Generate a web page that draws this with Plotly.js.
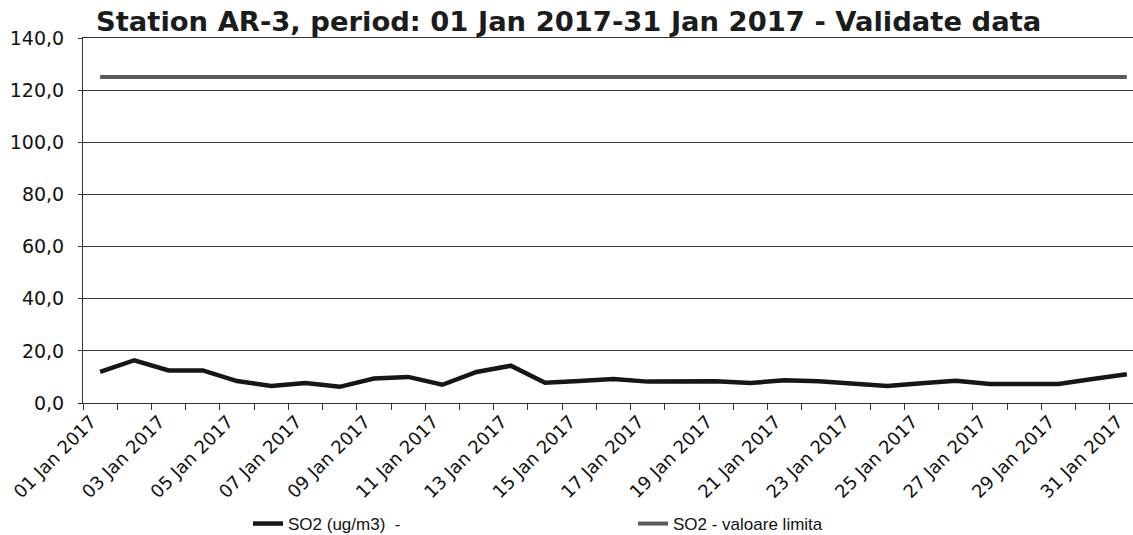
<!DOCTYPE html>
<html>
<head>
<meta charset="utf-8">
<script src="https://cdn.plot.ly/plotly-3.0.1.min.js"></script>
<style>
  html, body { margin: 0; padding: 0; background: #ffffff; }
  #chart { width: 1133px; height: 535px; }
</style>
</head>
<body>
<div id="chart"></div>
<script>
// ---- data ----
var dates = [
  '2017-01-01','2017-01-02','2017-01-03','2017-01-04','2017-01-05','2017-01-06','2017-01-07',
  '2017-01-08','2017-01-09','2017-01-10','2017-01-11','2017-01-12','2017-01-13','2017-01-14',
  '2017-01-15','2017-01-16','2017-01-17','2017-01-18','2017-01-19','2017-01-20','2017-01-21',
  '2017-01-22','2017-01-23','2017-01-24','2017-01-25','2017-01-26','2017-01-27','2017-01-28',
  '2017-01-29','2017-01-30','2017-01-31'
];
var so2Values = [
  11.9, 16.4, 12.5, 12.5, 8.4, 6.5, 7.7,
  6.2, 9.4, 10.0, 7.0, 11.9, 14.3, 7.8,
  8.4, 9.2, 8.2, 8.3, 8.3, 7.7, 8.7,
  8.3, 7.2, 6.5, 7.6, 8.5, 7.3, 7.5,
  7.3, 9.2, 11.0
];
var limitValues = [
  125, 125, 125, 125, 125, 125, 125,
  125, 125, 125, 125, 125, 125, 125,
  125, 125, 125, 125, 125, 125, 125,
  125, 125, 125, 125, 125, 125, 125,
  125, 125, 125
];
var tickDates = [
  '2017-01-01','2017-01-03','2017-01-05','2017-01-07','2017-01-09','2017-01-11',
  '2017-01-13','2017-01-15','2017-01-17','2017-01-19','2017-01-21','2017-01-23',
  '2017-01-25','2017-01-27','2017-01-29','2017-01-31'
];
var tickLabels = [
  '01 Jan 2017','03 Jan 2017','05 Jan 2017','07 Jan 2017','09 Jan 2017','11 Jan 2017',
  '13 Jan 2017','15 Jan 2017','17 Jan 2017','19 Jan 2017','21 Jan 2017','23 Jan 2017',
  '25 Jan 2017','27 Jan 2017','29 Jan 2017','31 Jan 2017'
];
var yTicks = [0, 20, 40, 60, 80, 100, 120, 140];
var seriesNames = ['SO2 (ug/m3)  -', 'SO2 - valoare limita'];
var titleText = 'Station AR-3, period: 01 Jan 2017-31 Jan 2017 - Validate data';

// ---- chart ----
var traces = [
  {
    x: dates, y: so2Values, name: seriesNames[0], type: 'scatter', mode: 'lines',
    line: { color: '#161616', width: 4.5 }
  },
  {
    x: dates, y: limitValues, name: seriesNames[1], type: 'scatter', mode: 'lines',
    line: { color: '#5a5a5a', width: 4 }
  }
];

var layout = {
  width: 1133, height: 535,
  margin: { l: 83, r: 0, t: 38, b: 132, pad: 0 },
  paper_bgcolor: '#ffffff', plot_bgcolor: '#ffffff',
  separators: ', ',
  showlegend: true,
  title: {
    text: titleText,
    font: { family: 'DejaVu Sans', size: 27.4, color: '#1c1c1c', weight: 'bold' },
    xref: 'container', x: 96 / 1133, xanchor: 'left',
    yref: 'container', y: 1 - 21 / 535, yanchor: 'middle'
  },
  xaxis: {
    type: 'date',
    range: ['2016-12-31 12:00', '2017-01-31 04:20'],
    tickmode: 'array', tickvals: tickDates, ticktext: tickLabels,
    tickangle: -45,
    ticks: '', showgrid: false,
    ticklabeloverflow: 'allow',
    ticklabelshift: -9,
    tickfont: { family: 'DejaVu Sans', size: 18, color: '#111' },
    showline: true, mirror: true, linecolor: '#333', linewidth: 1,
    zeroline: false,
    minor: {
      ticks: 'outside', ticklen: 6, tickwidth: 1, tickcolor: '#333',
      tick0: '2016-12-31 12:00', dtick: 86400000, showgrid: false
    }
  },
  yaxis: {
    range: [0, 140],
    tickmode: 'array', tickvals: yTicks,
    tickformat: '.1f',
    ticks: 'outside', ticklen: 4, tickcolor: '#333',
    ticklabelstandoff: 10,
    tickfont: { family: 'DejaVu Sans', size: 19, color: '#111' },
    showgrid: true, gridcolor: '#3a3a3a', gridwidth: 1,
    showline: true, linecolor: '#333', linewidth: 1,
    zeroline: false
  },
  legend: {
    orientation: 'h',
    xref: 'container', x: 248 / 1133, xanchor: 'left',
    yref: 'container', y: 1 - 524 / 535, yanchor: 'middle',
    font: { family: 'Liberation Sans', size: 17, color: '#111' },
    entrywidth: 340, entrywidthmode: 'pixels',
    bgcolor: 'rgba(0,0,0,0)'
  }
};

Plotly.newPlot('chart', traces, layout, { displayModeBar: false, staticPlot: true });
</script>
</body>
</html>
